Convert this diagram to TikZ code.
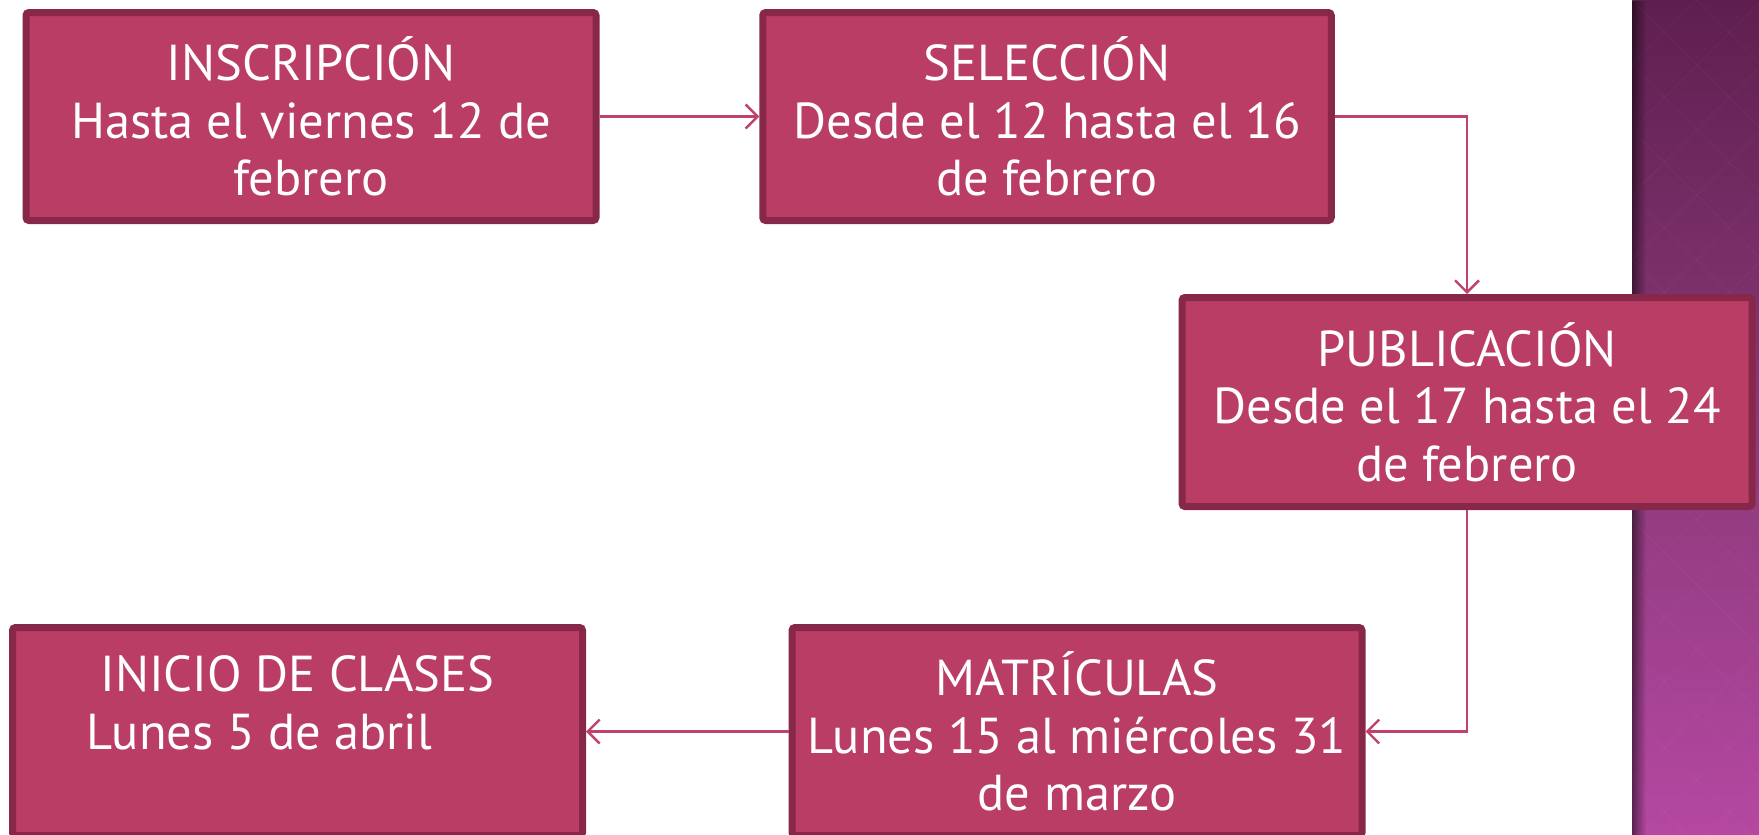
\documentclass[tikz,border=0pt]{standalone}
\usepackage{fontspec}
\setmainfont{PT Sans}
\usetikzlibrary{arrows.meta,fadings}
\definecolor{boxfill}{HTML}{BA3D66}
\definecolor{boxedge}{HTML}{87284A}
\definecolor{arrowc}{HTML}{C0416C}
\definecolor{stripTop}{HTML}{5E1F4F}
\definecolor{stripMid}{HTML}{8A3878}
\definecolor{stripBot}{HTML}{B548A2}
\tikzfading[name=myfade, left color=transparent!0, right color=transparent!100]
\begin{document}
\begin{tikzpicture}[x=1pt,y=-1pt,
  stepbox/.style={draw=boxedge, fill=boxfill, line width=7pt, rounded corners=3pt,
    minimum width=570pt, minimum height=208pt, text=white, align=center,
    font=\fontsize{50.5}{57.5}\selectfont, inner sep=0pt},
  conn/.style={draw=arrowc, line width=2.4pt,
    -{Straight Barb[length=12pt,width=24pt,line width=2.4pt]}}]
\useasboundingbox (0,0) rectangle (1759,835);
\fill[white] (0,0) rectangle (1759,835);
% side strip
\shade[top color=stripTop, bottom color=stripBot, middle color=stripMid] (1632,0) rectangle (1759,835);
\begin{scope}
\clip (1632,0) rectangle (1759,835);
\foreach \k in {-14,...,14} {
  \draw[white, opacity=0.035, line width=1pt] (1632+\k*65,0) -- ++(835,835);
  \draw[white, opacity=0.035, line width=1pt] (1632+\k*65+130,0) -- ++(-835,835);
}
\end{scope}
\fill[black, opacity=0.5, path fading=myfade] (1632,0) rectangle (1646,835);
% boxes
\node[stepbox] (ins) at (311,116.5) {INSCRIPCIÓN\\Hasta el viernes 12 de\\febrero};
\node[stepbox, minimum width=568.5pt] (sel) at (1047,116.5) {SELECCIÓN\\Desde el 12 hasta el 16\\de febrero};
\node[stepbox, minimum height=209pt] (pub) at (1467,402) {PUBLICACIÓN\\Desde el 17 hasta el 24\\de febrero};
\node[stepbox] (mat) at (1077,731.5) {MATRÍCULAS\\Lunes 15 al miércoles 31\\de marzo};
\node[stepbox] (ini) at (297.5,731.5) {INICIO DE CLASES\\Lunes 5 de abril\rule{76pt}{0pt}\\\rule{0pt}{30pt}};
% connectors
\draw[conn] (ins.east) -- (sel.west);
\draw[conn] (sel.east) -| (pub.north);
\draw[conn] (pub.south) |- (mat.east);
\draw[conn] (mat.west) -- (ini.east);
\end{tikzpicture}
\end{document}
